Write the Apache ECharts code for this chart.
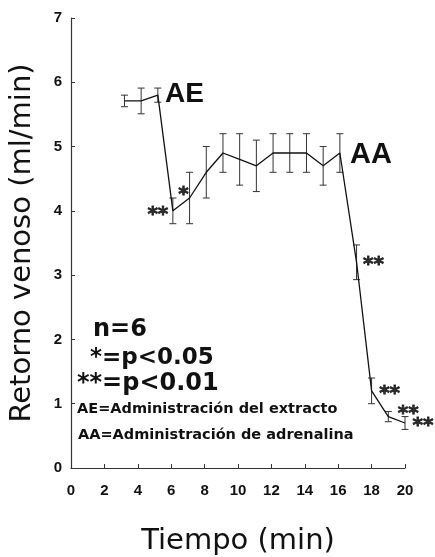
<!DOCTYPE html>
<html>
<head>
<meta charset="utf-8">
<script src="https://cdn.jsdelivr.net/npm/echarts@6/dist/echarts.min.js"></script>
<style>
html,body{margin:0;padding:0;background:#fff;}
#c{width:435px;height:557px;}
</style>
</head>
<body>
<div id="c"></div>
<script>
// Time (min)
var times = [3.2, 4.2, 5.2, 6.1, 7.1, 8.1, 9.1, 10.1, 11.1, 12.1, 13.1, 14.1, 15.1, 16.1, 17.1, 18, 19, 20];
// Retorno venoso (ml/min), mean
var means = [5.71, 5.71, 5.8, 4.0, 4.2, 4.6, 4.9, 4.8, 4.7, 4.9, 4.9, 4.9, 4.7, 4.9, 3.2, 1.2, 0.8, 0.7];
// error (+/-)
var errs  = [0.09, 0.2, 0.11, 0.2, 0.4, 0.4, 0.3, 0.4, 0.4, 0.3, 0.3, 0.3, 0.3, 0.3, 0.27, 0.2, 0.08, 0.1];
// significance marks
var sig   = ['', '', '', '**', '*', '', '', '', '', '', '', '', '', '', '**', '**', '**', '**'];
var xTicks = [0, 2, 4, 6, 8, 10, 12, 14, 16, 18, 20];
var yTicks = [0, 1, 2, 3, 4, 5, 6, 7];

var labelOffsets = {3: [-15, 4], 4: [-6, -3], 14: [17, 3], 15: [18, 3], 16: [20, -3], 17: [18, 3]};

var chart = echarts.init(document.getElementById('c'), null, {renderer: 'canvas'});

var lineData = times.map(function (t, i) { return [t, means[i]]; });
var errData = times.map(function (t, i) { return [t, means[i] - errs[i], means[i] + errs[i]]; });
var sigData = times.map(function (t, i) {
  return {
    value: [t, means[i]],
    label: {
      show: !!sig[i],
      formatter: sig[i],
      offset: labelOffsets[i] || [0, 0]
    }
  };
});

var tickFont = {fontFamily: 'Liberation Sans', fontWeight: 'bold', fontSize: 15, color: '#111'};

chart.setOption({
  animation: false,
  grid: {left: 71, right: 30, top: 18, bottom: 89, containLabel: false, outerBoundsMode: 'none'},
  xAxis: {
    type: 'value', min: xTicks[0], max: xTicks[xTicks.length - 1], interval: 2,
    name: 'Tiempo (min)', nameLocation: 'middle', nameGap: 59,
    nameTextStyle: {fontFamily: 'DejaVu Sans', fontSize: 29, color: '#111'},
    axisLine: {show: true, lineStyle: {color: '#333', width: 1.2}},
    axisTick: {show: true, inside: true, length: 4, lineStyle: {color: '#333'}},
    axisLabel: Object.assign({margin: 15}, tickFont),
    splitLine: {show: false}
  },
  yAxis: {
    type: 'value', min: yTicks[0], max: yTicks[yTicks.length - 1], interval: 1,
    name: 'Retorno venoso (ml/min)', nameLocation: 'middle', nameGap: 34,
    nameTextStyle: {fontFamily: 'DejaVu Sans', fontSize: 29, color: '#111'},
    axisLine: {show: true, lineStyle: {color: '#333', width: 1.2}},
    axisTick: {show: true, inside: true, length: 4, lineStyle: {color: '#333'}},
    axisLabel: Object.assign({margin: 9}, tickFont),
    splitLine: {show: false}
  },
  series: [
    {
      type: 'custom',
      data: errData,
      z: 3,
      renderItem: function (params, api) {
        var x = api.value(0);
        var lo = api.coord([x, api.value(1)]);
        var hi = api.coord([x, api.value(2)]);
        var w = 3.5;
        var st = {stroke: '#333', lineWidth: 1};
        return {
          type: 'group',
          children: [
            {type: 'line', shape: {x1: lo[0], y1: lo[1], x2: hi[0], y2: hi[1]}, style: st},
            {type: 'line', shape: {x1: lo[0] - w, y1: lo[1], x2: lo[0] + w, y2: lo[1]}, style: st},
            {type: 'line', shape: {x1: hi[0] - w, y1: hi[1], x2: hi[0] + w, y2: hi[1]}, style: st}
          ]
        };
      }
    },
    {
      type: 'line',
      data: lineData,
      showSymbol: false,
      symbol: 'none',
      lineStyle: {color: '#111', width: 1.3},
      z: 4
    },
    {
      type: 'scatter',
      data: sigData,
      symbolSize: 1,
      itemStyle: {color: 'rgba(0,0,0,0)'},
      label: {
        position: 'inside',
        fontFamily: 'DejaVu Sans', fontWeight: 'bold', fontSize: 20, color: '#000',
        textBorderColor: '#000', textBorderWidth: 0.8
      },
      z: 5
    }
  ],
  graphic: [
    {type: 'text', left: 165, top: 80, style: {text: 'AE', font: 'bold 28px "Liberation Sans"', fill: '#111'}},
    {type: 'text', left: 350, top: 140, style: {text: 'AA', font: 'bold 29px "Liberation Sans"', fill: '#111'}},
    {type: 'text', left: 93, top: 318, style: {text: 'n=6', font: 'bold 24px "DejaVu Sans"', fill: '#111'}},
    {type: 'text', left: 90, top: 347, style: {text: '*=p<0.05', font: 'bold 23px "DejaVu Sans"', fill: '#111'}},
    {type: 'text', left: 77, top: 372, style: {text: '**=p<0.01', font: 'bold 24px "DejaVu Sans"', fill: '#111'}},
    {type: 'text', left: 77, top: 402, style: {text: 'AE=Administración del extracto', font: 'bold 14.5px "DejaVu Sans"', fill: '#111'}},
    {type: 'text', left: 78, top: 428, style: {text: 'AA=Administración de adrenalina', font: 'bold 14.5px "DejaVu Sans"', fill: '#111'}}
  ]
});
</script>
</body>
</html>
